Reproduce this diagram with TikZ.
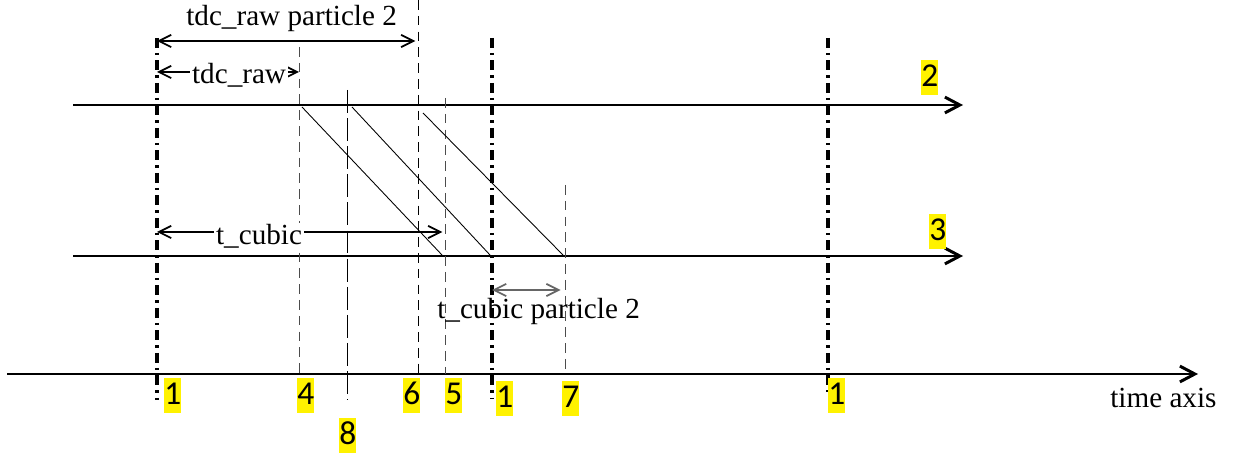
\documentclass[tikz,border=0pt]{standalone}
\usepackage{fontspec}
\setmainfont{Liberation Serif}
\newfontfamily\numfont{Carlito}
\usepackage{tikz}
\usetikzlibrary{arrows.meta, positioning}

\tikzset{
  axisline/.style={line width=1.7pt, -{Straight Barb[length=8.5pt,width=9pt]}},
  clockline/.style={line width=2.2pt, dash pattern=on 5.5pt off 3pt on 1.3pt off 3pt},
  guide/.style={line width=0.5pt, black!70, dash pattern=on 5.5pt off 3.5pt},
  longguide/.style={line width=0.5pt, dash pattern=on 13pt off 3pt},
  shiftline/.style={line width=0.5pt},
  span/.style={line width=0.6pt,
    {Straight Barb[length=7pt,width=7pt,line width=1pt]}-{Straight Barb[length=7pt,width=7pt,line width=1pt]}},
  lbl/.style={inner sep=0pt, anchor=base west},
  numlabel/.style={fill=yellow, inner sep=0pt, anchor=north west,
    text height=15pt, text depth=4.7pt, font=\numfont\fontsize{19}{22}\selectfont}
}

\begin{document}
\begin{tikzpicture}[x=0.02cm, y=-0.02cm, font=\fontsize{16.6}{20}\selectfont]
    \useasboundingbox (0,0) rectangle (1233,455);

    % points on the time axis
    \coordinate (clkA) at (157,374);
    \coordinate (clkB) at (492,374);
    \coordinate (clkC) at (828,374);
    \coordinate (g4) at (299,374);
    \coordinate (g8) at (347,374);
    \coordinate (g6) at (418,374);
    \coordinate (g5) at (445,374);
    \coordinate (g7) at (565,374);

    % time axis and the two particle lines
    \coordinate (tstart) at (7,374);
    \coordinate (tend) at (1198,374);
    \coordinate (p2start) at (73,105);
    \coordinate (p2end) at (963,105);
    \coordinate (p3start) at (73,256);
    \coordinate (p3end) at (963,256);
    \draw[axisline] (tstart) -- (tend);
    \draw[axisline] (p2start) -- (p2end);
    \draw[axisline] (p3start) -- (p3end);

    % dashed guides
    \draw[guide] (g4 |- 0,47) -- (g4);
    \draw[longguide] (g8 |- 0,90) -- (g8 |- 0,400);
    \draw[guide, black] (g6 |- 0,0) -- (g6);
    \draw[guide] (g5 |- 0,98) -- (g5);
    \draw[guide] (g7 |- 0,185) -- (g7);

    % transfer from line 2 to line 3
    \draw[shiftline] (302,107) -- (442,255);
    \draw[shiftline] (352,107) -- (490,255);
    \draw[shiftline] (423,113) -- (563,255);

    % clock lines
    \foreach \c/\bot in {clkA/400, clkB/398, clkC/392}
        \draw[clockline] (\c |- 0,38) -- (\c |- 0,\bot);

    % spans
    \draw[span, shorten >=1.5pt] (clkA |- 0,41) -- (g6 |- 0,41);
    \draw[span] (clkA |- 0,72) -- (g4 |- 0,72);
    \draw[span, shorten >=1.5pt] (clkA |- 0,232) -- (g5 |- 0,232);
    \draw[span, black!60, shorten >=2.5pt] (clkB |- 0,290) -- (g7 |- 0,290);

    % texts
    \node[lbl] (tdcrawp) at (186,26) {tdc\_raw particle 2};
    \node[lbl, fill=white, inner sep=1pt] (tdcraw) at (190,84) {tdc\_raw};
    \node[lbl, fill=white, inner sep=1pt] (tcubic) at (214,245) {t\_cubic};
    \node[lbl] (tcubicp) at (437,319) {t\_cubic particle 2};
    \node[lbl] (taxis) at (1110,408) {time axis};

    % numbers
    \node[numlabel] (n1a) at (164,378) {1};
    \node[numlabel] (n4) at (297,378) {4};
    \node[numlabel] (n6) at (403,378) {6};
    \node[numlabel] (n5) at (445,378) {5};
    \node[numlabel] (n1b) at (496,381) {1};
    \node[numlabel] (n7) at (562,381) {7};
    \node[numlabel] (n8) at (339,418) {8};
    \node[numlabel] (n1c) at (828,378) {1};
    \node[numlabel] (n2) at (921,60) {2};
    \node[numlabel] (n3) at (929,214) {3};
\end{tikzpicture}
\end{document}
